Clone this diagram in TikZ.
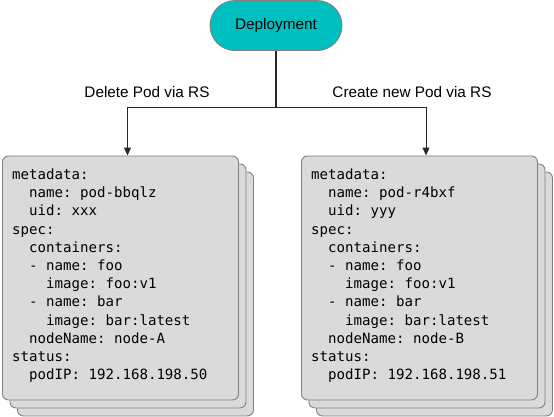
\documentclass[tikz,border=0pt]{standalone}
\usepackage{fontspec}
\setmainfont{Liberation Sans}
\setmonofont{DejaVu Sans Mono}
\usetikzlibrary{arrows.meta}
\definecolor{teal1}{RGB}{0,191,191}
\definecolor{podfill}{RGB}{218,218,218}
\definecolor{edgegray}{RGB}{128,128,128}
\definecolor{linec}{RGB}{40,40,40}
\tikzset{
  podbox/.style={draw=edgegray, fill=podfill, line width=0.9pt, rounded corners=6pt, minimum width=236pt, minimum height=244pt, inner sep=0pt, anchor=north west},
  deploy/.style={draw=edgegray, fill=teal1, line width=0.9pt, rounded corners=25pt, minimum width=132pt, minimum height=50pt, inner sep=0pt, font=\fontsize{15.3}{18}\selectfont},
  lbl/.style={font=\fontsize{15.3}{18}\selectfont, anchor=base, inner sep=0pt},
  yaml/.style={font=\ttfamily\fontsize{14.1}{18.2}\selectfont, align=left, anchor=north west, inner sep=0pt},
  conn/.style={draw=linec, line width=1pt},
  arr/.style={conn, -{Triangle[width=7pt,length=8pt]}}
}
\begin{document}
\begin{tikzpicture}[x=1pt,y=-1pt]
\useasboundingbox (0,0) rectangle (554,416);
% Deployment
\node[deploy] (dep) at (276,25.5) {Deployment};
% Left pod stack
\node[podbox] (a3) at (17,171.5) {};
\node[podbox] (a2) at (9.5,163.5) {};
\node[podbox] (a1) at (2,155.5) {};
\node[yaml] (ta) at (12,168.5) {metadata:\\
~~name: pod-bbqlz\\
~~uid: xxx\\
spec:\\
~~containers:\\
~~- name: foo\\
~~~~image: foo:v1\\
~~- name: bar\\
~~~~image: bar:latest\\
~~nodeName: node-A\\
status:\\
~~podIP: 192.168.198.50};
% Right pod stack
\node[podbox] (b3) at (316,171.5) {};
\node[podbox] (b2) at (308.5,163.5) {};
\node[podbox] (b1) at (301,155.5) {};
\node[yaml] (tb) at (311,168.5) {metadata:\\
~~name: pod-r4bxf\\
~~uid: yyy\\
spec:\\
~~containers:\\
~~- name: foo\\
~~~~image: foo:v1\\
~~- name: bar\\
~~~~image: bar:latest\\
~~nodeName: node-B\\
status:\\
~~podIP: 192.168.198.51};
% connectors
\coordinate (j) at (276,107.5);
\coordinate (jl) at (127.5,107.5);
\coordinate (jr) at (426,107.5);
\coordinate (ea) at (127.5,155.5);
\coordinate (eb) at (426,155.5);
\draw[conn, line width=1.6pt] (dep.south) -- (j);
\draw[arr] (j) -- (jl) -- (ea);
\draw[arr] (j) -- (jr) -- (eb);
\node[lbl] (la) at (147,97.5) {Delete Pod via RS};
\node[lbl] (lb) at (412,97.5) {Create new Pod via RS};
\end{tikzpicture}
\end{document}
